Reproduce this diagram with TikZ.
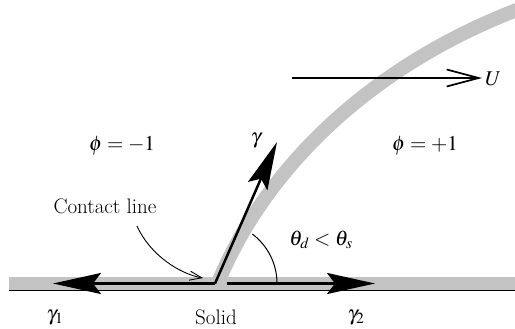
\documentclass[tikz,border=0pt]{standalone}
\usepackage{mathptmx}
\usetikzlibrary{arrows.meta}
\definecolor{bandgray}{RGB}{195,195,195}
\begin{document}
\begin{tikzpicture}[x=1pt,y=-1pt,
  lbl/.style={inner sep=0pt, anchor=base, font=\fontsize{21}{25}\selectfont},
  bigarrow/.style={line width=2.5pt, -{Stealth[length=48pt,width=21pt,inset=8pt]}},
  uarrow/.style={line width=1.7pt, -{Straight Barb[length=32pt,width=17pt]}},
  thinarrow/.style={line width=0.9pt, -{Straight Barb[length=12pt,width=9pt]}},
  band/.style={draw=bandgray, line width=13pt},
  thinline/.style={line width=1pt}]
\useasboundingbox (0,0) rectangle (515,329);
% coordinates
\coordinate (C) at (215,283.5);
\coordinate (Lt) at (53,283.5);
\coordinate (Rs) at (227,283.5);
\coordinate (Rt) at (375,283.5);
\coordinate (Gt) at (277,142);
\coordinate (Us) at (292,78);
\coordinate (Cs) at (137,226);
\coordinate (Ce) at (203,278);
\coordinate (B0) at (9,283.5);
\coordinate (B1) at (520,283.5);
\coordinate (I0) at (218,283);
\coordinate (I1) at (530,5);
\coordinate (S0) at (9,290.3);
\coordinate (S1) at (515,290.3);
% bands
\begin{scope}
\clip (0,0) rectangle (515,329);
\path[band] (B0) -- (B1);
\path[band, line width=14pt] (I0) .. controls (262,175) and (365,65) .. (I1);
\end{scope}
\draw[line width=1.3pt] (S0) -- (S1);
% labels
\node[lbl] (phiL) at (122,151) {$\phi = -1$};
\node[lbl] (phiR) at (425,150) {$\phi = +1$};
\node[lbl] (gam) at (256,143) {$\gamma$};
\node[lbl, anchor=base west] (U) at (485,86) {$U$};
\node[lbl] (CL) at (105,214) {Contact line};
\node[lbl] (theta) at (321,245) {$\theta_d < \theta_s$};
\node[lbl] (g1) at (55,320) {$\gamma_1$};
\node[lbl] (solid) at (216,324) {Solid};
\node[lbl] (g2) at (356,320) {$\gamma_2$};
% arrows
\draw[bigarrow] (C) -- (Lt);
\draw[bigarrow] (Rs) -- (Rt);
\draw[bigarrow] (C) -- (Gt);
\draw[uarrow, shorten >=3pt] (Us) -- (Us -| U.west);
\draw[thinarrow] (Cs) .. controls (150,255) and (180,274) .. (Ce);
\draw[thinline] (C) ++(62,0) arc[start angle=0, end angle=-53, radius=62];
\end{tikzpicture}
\end{document}
